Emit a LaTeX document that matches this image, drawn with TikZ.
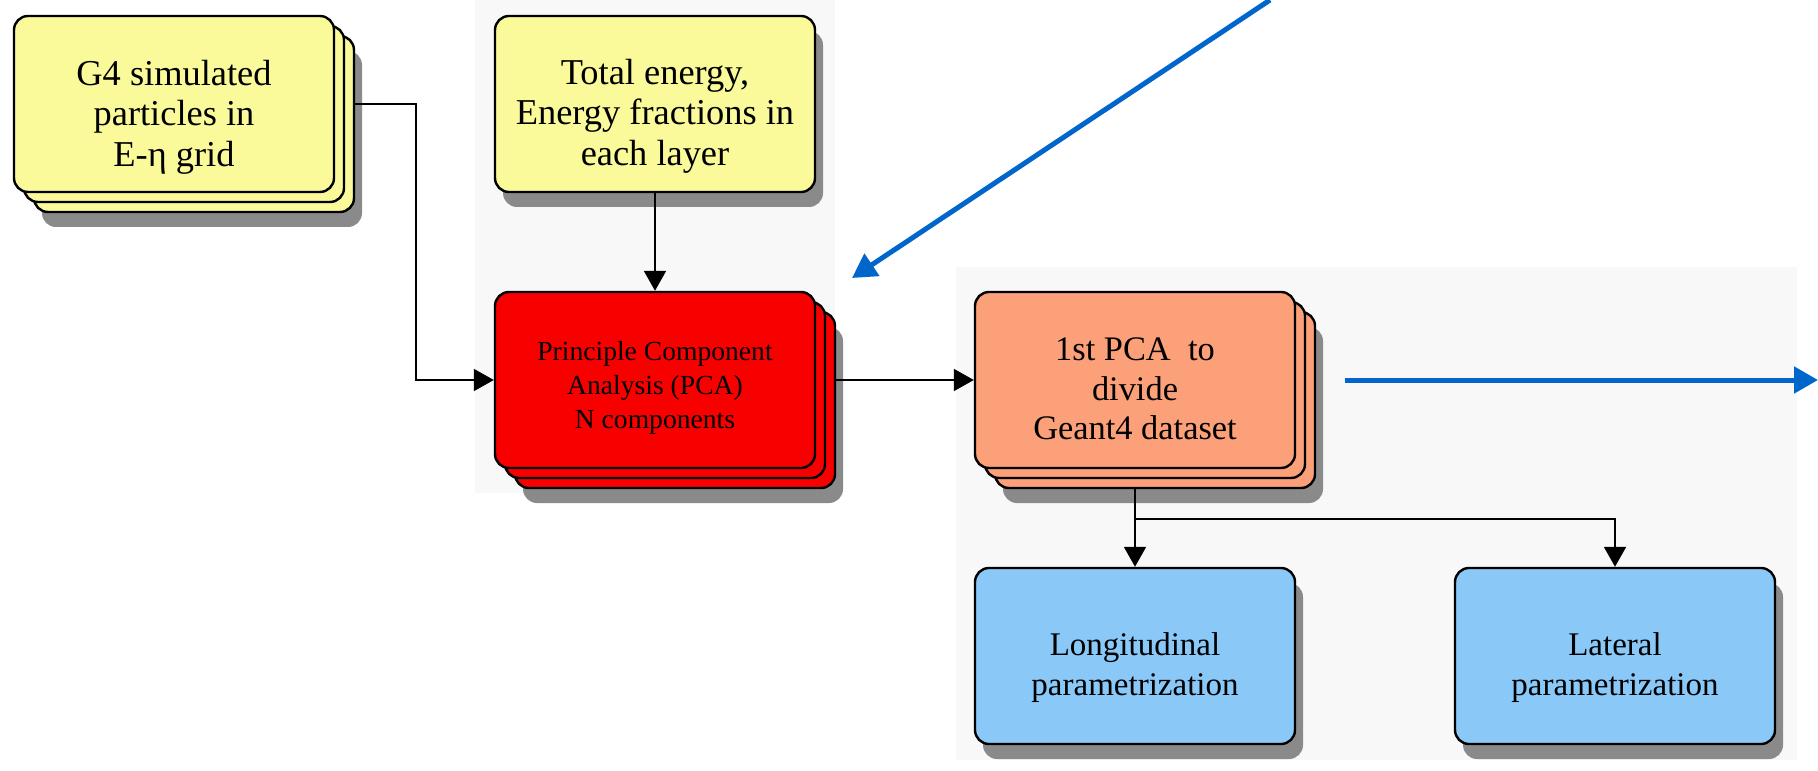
\documentclass[tikz,border=0pt]{standalone}
\usepackage{fontspec}
\setmainfont{Liberation Serif}
\usepackage{xcolor}
\usetikzlibrary{arrows.meta, shadows}
\definecolor{boxYellow}{RGB}{250, 250, 155}
\definecolor{boxRed}{RGB}{248, 0, 0}
\definecolor{boxOrange}{RGB}{252, 160, 122}
\definecolor{boxBlue}{RGB}{138, 200, 248}
\definecolor{panelGray}{RGB}{248, 248, 248}
\definecolor{shadowGray}{RGB}{138, 138, 138}
\definecolor{flowBlue}{RGB}{0, 102, 204}

\tikzset{
	stepbox/.style={draw=black, line width=1.2pt, rounded corners=7pt, minimum width=160pt, minimum height=88pt, align=center},
	lowered/.style={execute at begin node={\rule{0pt}{#1}}},
	single/.style={drop shadow={shadow xshift=4pt, shadow yshift=-7.5pt, fill=shadowGray, opacity=1}},
	stacked/.style={drop shadow={shadow xshift=14pt, shadow yshift=-17.5pt, fill=shadowGray, opacity=1}, copy shadow={shadow xshift=10pt, shadow yshift=-10pt}, copy shadow={shadow xshift=5pt, shadow yshift=-5pt}},
	link/.style={-{Triangle[width=11pt, length=10pt]}, line width=1pt},
	bluelink/.style={-{Triangle[width=13pt, length=12pt]}, line width=2.5pt, flowBlue}
}

\begin{document}
\begin{tikzpicture}[x=0.5pt, y=-0.5pt]
					% Canvas
					\fill[white] (0, 0) rectangle (1818, 770);
					\useasboundingbox (0, 0) rectangle (1818, 770);
					
					% Grey panels behind the PCA steps
					\fill[panelGray] (475, 0) rectangle (835, 493);
					\fill[panelGray] (956, 267) rectangle (1797, 760);
					
					% Inputs
					\node[stepbox, stacked, fill=boxYellow, font=\fontsize{18.2}{20.2}\selectfont, lowered=66pt] (g4) at (174, 104) {G4 simulated\\particles in\\E-η grid};
					\node[stepbox, single, fill=boxYellow, font=\fontsize{18.2}{20.2}\selectfont, lowered=65pt] (total) at (655, 104) {Total energy,\\Energy fractions in\\each layer};
					
					% PCA steps
					\node[stepbox, stacked, fill=boxRed, font=\fontsize{13.8}{17}\selectfont, lowered=51.5pt] (pca) at (655, 380) {Principle Component\\Analysis (PCA)\\N components};
					\node[stepbox, stacked, fill=boxOrange, font=\fontsize{17.2}{19.8}\selectfont, lowered=60pt] (first) at (1135, 380) {1st PCA~ to\\divide\\Geant4 dataset};
					
					% Parametrizations
					\node[stepbox, single, fill=boxBlue, font=\fontsize{16.5}{20}\selectfont, lowered=43.5pt] (longi) at (1135, 656) {Longitudinal\\parametrization};
					\node[stepbox, single, fill=boxBlue, font=\fontsize{16.5}{20}\selectfont, lowered=43.5pt] (lateral) at (1615, 656) {Lateral\\parametrization};
					
					% Connectors
					\draw[link] ([xshift=10pt]g4.east) -- ++(30.5pt, 0) |- (pca.west);
					\draw[link] (total.south) -- (pca.north);
					\draw[link] ([xshift=10pt]pca.east) -- (first.west);
					\draw[link] ([yshift=-10pt]first.south) -- (longi.north);
					\draw[link] ([yshift=-10pt]first.south) ++(0, -15pt) -| (lateral.north);
					
					% Blue flow arrows
					\coordinate (inStart) at (1270, 0);
					\coordinate (inEnd) at (852, 278);
					\coordinate (outStart) at (1345, 380);
					\coordinate (outEnd) at (1818, 380);
					\draw[bluelink] (inStart) -- (inEnd);
					\draw[bluelink] (outStart) -- (outEnd);
				\end{tikzpicture}
\end{document}
